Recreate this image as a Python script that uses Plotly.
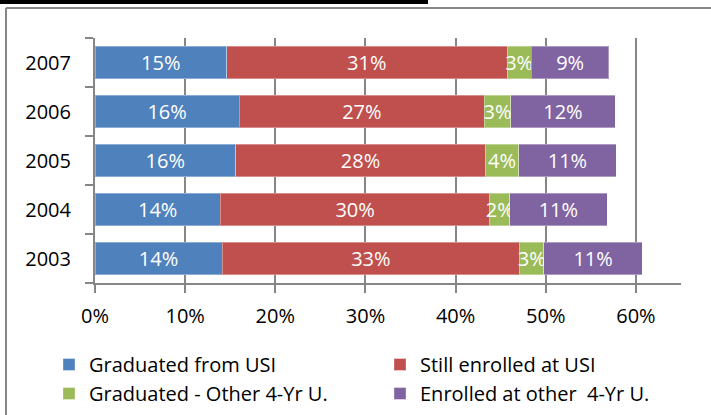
import plotly.graph_objects as go

years = ["2003", "2004", "2005", "2006", "2007"]
series_names = ["Graduated from USI", "Still enrolled at USI",
                "Graduated - Other 4-Yr U.", "Enrolled at other  4-Yr U."]
grad_usi = [0.141, 0.139, 0.156, 0.160, 0.146]
still_usi = [0.330, 0.299, 0.277, 0.272, 0.311]
grad_other = [0.027, 0.022, 0.037, 0.029, 0.027]
enrolled_other = [0.109, 0.108, 0.108, 0.116, 0.086]
colors = ["#4F81BD", "#C0504D", "#9BBB59", "#8064A2"]
legend_ids = ["legend", "legend2", "legend", "legend2"]
x_ticks = [0, 0.1, 0.2, 0.3, 0.4, 0.5, 0.6]

FONT = "'Open Sans', sans-serif"
FS = 20

fig = go.Figure()
for name, vals, col, lg in zip(series_names, [grad_usi, still_usi, grad_other, enrolled_other], colors, legend_ids):
    fig.add_trace(go.Bar(
        y=years, x=vals, name=name, orientation="h", legend=lg,
        marker=dict(color=col, line=dict(color="rgba(255,255,255,0.35)", width=1)),
        texttemplate="%{x:.0%}", textposition="inside", insidetextanchor="middle",
        textangle=0, constraintext="none",
        textfont=dict(color="white", size=FS, family=FONT),
        hoverinfo="skip",
    ))

GRID = "#868686"
leg_common = dict(orientation="v", xref="container", yref="container",
                  xanchor="left", yanchor="top", traceorder="normal",
                  font=dict(size=FS, family=FONT, color="black"),
                  bgcolor="rgba(0,0,0,0)", itemwidth=30, tracegroupgap=0)
fig.update_layout(
    barmode="stack", bargap=0.33,
    width=711, height=415,
    margin=dict(l=95, r=30, t=38, b=132, autoexpand=False),
    paper_bgcolor="white", plot_bgcolor="white",
    font=dict(family=FONT, size=FS, color="black"),
    xaxis=dict(range=[0, 0.65], tickvals=x_ticks, tickformat=".0%",
               showgrid=True, gridcolor=GRID, gridwidth=2,
               showline=True, linecolor=GRID, linewidth=2,
               ticks="outside", ticklen=8, tickwidth=2, tickcolor=GRID,
               zeroline=False, ticklabelstandoff=6, fixedrange=True),
    yaxis=dict(type="category", categoryorder="array", categoryarray=years,
               showline=True, linecolor=GRID, linewidth=2,
               ticks="outside", ticklen=8, tickwidth=2, tickcolor=GRID,
               tickson="boundaries", showgrid=False, ticklabelstandoff=18,
               fixedrange=True),
    legend=dict(x=49 / 711, y=1 - 345 / 415, **leg_common),
    legend2=dict(x=380 / 711, y=1 - 345 / 415, **leg_common),
    showlegend=True,
)

W = 586.0
H = 245.0
def px(x):
    return (x - 95) / W
def py(y):
    return (283 - y) / H

fig.add_shape(type="line", xref="paper", yref="paper",
              x0=px(6), x1=px(711), y0=py(8), y1=py(8),
              line=dict(color="#888888", width=2), layer="above")
fig.add_shape(type="line", xref="paper", yref="paper",
              x0=px(6), x1=px(6), y0=py(8), y1=py(415),
              line=dict(color="#888888", width=2), layer="above")
fig.add_shape(type="line", xref="paper", yref="paper",
              x0=px(0), x1=px(428), y0=py(2), y1=py(2),
              line=dict(color="black", width=4), layer="above")

fig.write_html("out.html", config={"displayModeBar": False},
               post_script="document.body.style.margin='0';document.body.style.overflow='hidden';")
